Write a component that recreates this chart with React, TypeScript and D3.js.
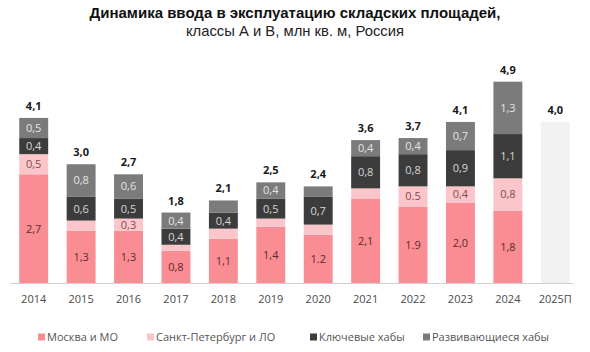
import React, { useEffect, useRef } from 'react';
import * as d3 from 'd3';

const years = ['2014', '2015', '2016', '2017', '2018', '2019', '2020', '2021', '2022', '2023', '2024', '2025П'];
const moscow = [2.7, 1.3, 1.3, 0.8, 1.1, 1.4, 1.2, 2.1, 1.9, 2.0, 1.8, 0];
const spb = [0.5, 0.25, 0.3, 0.15, 0.25, 0.2, 0.25, 0.25, 0.5, 0.4, 0.8, 0];
const keyHubs = [0.4, 0.6, 0.5, 0.4, 0.4, 0.5, 0.7, 0.8, 0.8, 0.9, 1.1, 0];
const devHubs = [0.5, 0.8, 0.6, 0.4, 0.3, 0.4, 0.25, 0.4, 0.4, 0.7, 1.3, 0];
const forecast = [0, 0, 0, 0, 0, 0, 0, 0, 0, 0, 0, 4.0];
const totals = ['4,1', '3,0', '2,7', '1,8', '2,1', '2,5', '2,4', '3,6', '3,7', '4,1', '4,9', '4,0'];
// in the source some labels were typed with a dot
const dotLabels = ['2020-moscow', '2022-moscow', '2022-spb'];

const seriesNames = ['Москва и МО', 'Санкт-Петербург и ЛО', 'Ключевые хабы', 'Развивающиеся хабы'];
const seriesKeys = ['moscow', 'spb', 'key', 'dev'];
const seriesColors = ['#fa8d93', '#fcc5ca', '#3c3c3c', '#7b7b7b'];
const labelColors = ['#5e2a2c', '#7c4d50', '#d6d6d6', '#e4e4e4'];

const FONT = '"Open Sans", "DejaVu Sans", sans-serif';

export default function App() {
  const ref = useRef<SVGSVGElement | null>(null);

  useEffect(() => {
    document.body.style.margin = '0';
    if (!ref.current) return;
    const svg = d3.select(ref.current);
    svg.selectAll('*').remove();

    const width = 590;
    const baseY = 283;

    const x = d3.scaleBand()
      .domain(years)
      .range([10, 579])
      .paddingInner(0.39)
      .paddingOuter(0.195);

    const y = d3.scaleLinear()
      .domain([0, 5.0])
      .range([baseY, 81.7]);

    const rows = years.map((yr, i) => ({
      year: yr, moscow: moscow[i], spb: spb[i], key: keyHubs[i], dev: devHubs[i],
    }));
    const stacked = d3.stack<any>().keys(seriesKeys)(rows);

    // title
    svg.append('text')
      .attr('x', width / 2).attr('y', 18)
      .attr('text-anchor', 'middle')
      .style('font-family', '"Liberation Sans", Arial, sans-serif')
      .style('font-size', '15px').style('font-weight', 'bold')
      .attr('fill', '#111')
      .text('Динамика ввода в эксплуатацию складских площадей,');
    svg.append('text')
      .attr('x', width / 2).attr('y', 36)
      .attr('text-anchor', 'middle')
      .style('font-family', '"Liberation Sans", Arial, sans-serif')
      .style('font-size', '14.8px')
      .attr('fill', '#222')
      .text('классы А и В, млн кв. м, Россия');

    // forecast bar
    svg.append('g').selectAll('rect')
      .data(years.filter((_, i) => forecast[i] > 0))
      .join('rect')
      .attr('x', d => x(d)!)
      .attr('width', x.bandwidth())
      .attr('y', d => y(forecast[years.indexOf(d)]))
      .attr('height', d => baseY - y(forecast[years.indexOf(d)]))
      .attr('fill', '#f2f2f2');

    stacked.forEach((layer, si) => {
      const g = svg.append('g');
      g.selectAll('rect')
        .data(layer.filter(d => d[1] - d[0] > 0))
        .join('rect')
        .attr('x', d => x(d.data.year)!)
        .attr('width', x.bandwidth())
        .attr('y', d => y(d[1]))
        .attr('height', d => y(d[0]) - y(d[1]))
        .attr('fill', seriesColors[si]);

      g.selectAll('text')
        .data(layer.filter(d => d[1] - d[0] >= 0.3))
        .join('text')
        .attr('x', d => x(d.data.year)! + x.bandwidth() / 2)
        .attr('y', d => (y(d[0]) + y(d[1])) / 2 + 4)
        .attr('text-anchor', 'middle')
        .style('font-family', FONT)
        .style('font-size', '11px')
        .attr('fill', labelColors[si])
        .text(d => {
          const s = (d[1] - d[0]).toFixed(1);
          return dotLabels.includes(`${d.data.year}-${seriesKeys[si]}`) ? s : s.replace('.', ',');
        });
    });

    // totals
    svg.append('g').selectAll('text')
      .data(years)
      .join('text')
      .attr('x', d => x(d)! + x.bandwidth() / 2)
      .attr('y', (d, i) => {
        const sum = moscow[i] + spb[i] + keyHubs[i] + devHubs[i] + forecast[i];
        return y(sum) - 8;
      })
      .attr('text-anchor', 'middle')
      .style('font-family', FONT)
      .style('font-size', '11px').style('font-weight', 'bold')
      .attr('fill', '#1a1a1a')
      .text((_, i) => totals[i]);

    // axis
    svg.append('line')
      .attr('x1', 10).attr('x2', 573)
      .attr('y1', baseY + 0.5).attr('y2', baseY + 0.5)
      .attr('stroke', '#cfcfcf').attr('stroke-width', 1);

    svg.append('g').selectAll('text')
      .data(years)
      .join('text')
      .attr('x', d => x(d)! + x.bandwidth() / 2)
      .attr('y', 303)
      .attr('text-anchor', 'middle')
      .style('font-family', FONT)
      .style('font-size', '11px')
      .attr('fill', '#4a4a4a')
      .text(d => d);

    // legend
    const legendX = [38, 147, 310, 423];
    const lg = svg.append('g').selectAll('g')
      .data(seriesNames)
      .join('g')
      .attr('transform', (_, i) => `translate(${legendX[i]},337)`);
    lg.append('rect')
      .attr('x', 0).attr('y', -3.5)
      .attr('width', 7).attr('height', 7)
      .attr('fill', (_, i) => seriesColors[i]);
    lg.append('text')
      .attr('x', 9).attr('y', 4)
      .style('font-family', FONT)
      .style('font-size', '11px')
      .attr('fill', '#555')
      .text(d => d);

    svg.attr('width', width).attr('height', 352);
  }, []);

  return <svg ref={ref} width={590} height={352} style={{ display: 'block', background: '#fff' }} />;
}
